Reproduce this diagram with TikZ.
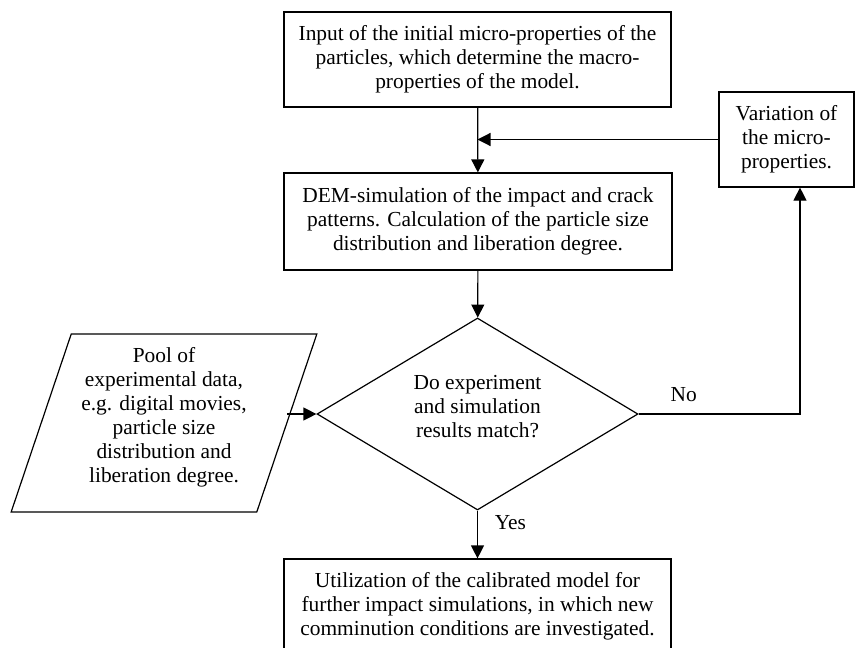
\documentclass[tikz,border=0pt]{standalone}
\usepackage{fontspec}
\setmainfont{Liberation Serif}
\usetikzlibrary{positioning,shapes.geometric,arrows.meta}

\tikzset{
  box/.style={draw, rectangle, align=center, inner sep=0pt},
  decision/.style={draw, diamond, aspect=1.67, align=center, inner sep=0pt},
  datain/.style={draw, trapezium, trapezium left angle=70.5, trapezium right angle=109.5,
    trapezium stretches=true, align=center, inner sep=0pt},
  arr/.style={-{Triangle[length=6.5pt,width=6.5pt]}},
}

\begin{document}
\begin{tikzpicture}[x=0.5pt,y=-0.5pt,line width=0.6pt,font=\fontsize{10.7}{12}\selectfont]
\useasboundingbox (0,0) rectangle (855,647);
% boxes
\node[box, minimum width=193.5pt, minimum height=47.5pt] (input) at (477.5,59.5)
  {Input of the initial micro-properties of the\\ particles, which determine the macro-\\ properties of the model.};
\node[box, minimum width=194pt, minimum height=48.5pt] (dem) at (478,221.5)
  {DEM-simulation of the impact and crack\\ patterns. Calculation of the particle size\\ distribution and liberation degree.};
\node[box, minimum width=67.5pt, minimum height=47.5pt] (vary) at (786.5,139.5)
  {Variation of\\ the micro-\\ properties.};
\node[decision, minimum width=160.5pt, minimum height=96pt] (match) at (477.5,414)
  {Do experiment\\ and simulation\\ results match?\\[-4pt]};
\node[datain, minimum width=153pt, minimum height=89pt] (pool) at (164,423)
  {Pool of\\ experimental data,\\ e.g. digital movies,\\ particle size\\ distribution and\\ liberation degree.\\[-4pt]};
\node[box, minimum width=193.5pt, minimum height=47.5pt] (use) at (477.5,606.5)
  {Utilization of the calibrated model for\\ further impact simulations, in which new\\ comminution conditions are investigated.};
\coordinate (nobend) at (800,414);
% connectors
\draw[arr] (input) -- (dem);
\draw[arr] (vary.west) -- (vary.west -| input.south);
\draw[arr] (dem) -- (match);
\draw[arr] (pool.east |- match.west) -- (match.west);
\draw[arr] (match.east) -- node[above=2.5pt, pos=0.28] {No} (nobend) -- (nobend |- vary.south);
\draw[arr] (match.south) -- node[right=5pt, pos=0.25] {Yes} (use.north);
\end{tikzpicture}
\end{document}
